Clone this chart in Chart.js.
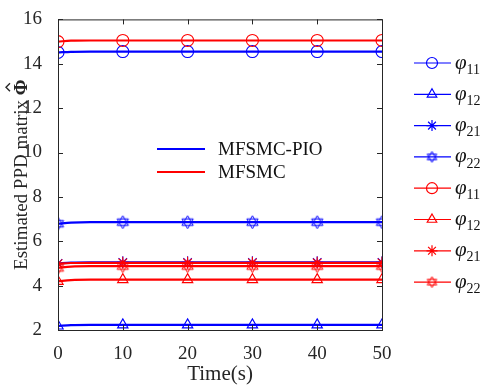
<!DOCTYPE html>
<html>
<head>
<meta charset="utf-8">
<script src="https://cdn.jsdelivr.net/npm/chart.js@4"></script>
<style>
  html, body { margin: 0; padding: 0; background: #fff; }
  canvas { display: block; }
</style>
</head>
<body>
<canvas id="c" width="482" height="389"></canvas>
<script>
// time samples (s) - markers only on multiples of 10
const times = [0, 2, 5, 10, 20, 30, 40, 50];

// MFSMC-PIO (blue)
const pio11 = [14.51, 14.54, 14.55, 14.55, 14.55, 14.55, 14.55, 14.55];
const pio12 = [2.18, 2.22, 2.23, 2.23, 2.23, 2.23, 2.23, 2.23];
const pio21 = [5.00, 5.04, 5.05, 5.05, 5.05, 5.05, 5.05, 5.05];
const pio22 = [6.79, 6.84, 6.86, 6.86, 6.86, 6.86, 6.86, 6.86];

// MFSMC (red)
const smc11 = [15.00, 15.04, 15.05, 15.05, 15.05, 15.05, 15.05, 15.05];
const smc12 = [4.19, 4.25, 4.27, 4.27, 4.27, 4.27, 4.27, 4.27];
const smc21 = [4.99, 5.02, 5.03, 5.03, 5.03, 5.03, 5.03, 5.03];
const smc22 = [4.80, 4.86, 4.88, 4.88, 4.88, 4.88, 4.88, 4.88];

const xTicks = [0, 10, 20, 30, 40, 50];
const yTicks = [2, 4, 6, 8, 10, 12, 14, 16];
const subs = ['11', '12', '21', '22'];

const BLUE = '#0000ff';
const RED = '#ff0000';
const SERIF = '"Liberation Serif", "Times New Roman", serif';

// hexagram marker (star of david)
function hexagram(color, size) {
  const cv = document.createElement('canvas');
  cv.width = size; cv.height = size;
  const g = cv.getContext('2d');
  const c = size / 2, r = size / 2 - 1;
  g.strokeStyle = color; g.lineWidth = 1;
  [-Math.PI / 2, Math.PI / 2].forEach(a0 => {
    g.beginPath();
    for (let k = 0; k < 3; k++) {
      const a = a0 + k * 2 * Math.PI / 3;
      const px = c + r * Math.cos(a), py = c + r * Math.sin(a);
      k ? g.lineTo(px, py) : g.moveTo(px, py);
    }
    g.closePath(); g.stroke();
  });
  return cv;
}

const styles = ['circle', 'triangle', 'star', null];

function makeSet(vals, color, idx, order) {
  return {
    data: times.map((t, i) => ({ x: t, y: vals[i] })),
    borderColor: color,
    backgroundColor: 'rgba(0,0,0,0)',
    pointBorderColor: color,
    pointBackgroundColor: 'rgba(0,0,0,0)',
    borderWidth: 2.2,
    pointBorderWidth: 1.1,
    pointStyle: styles[idx] || hexagram(color, 15),
    pointRadius: ctx => (times[ctx.dataIndex] % 10 === 0 ? 6 : 0),
    pointHoverRadius: 0,
    cubicInterpolationMode: 'monotone',
    order: order
  };
}

const blueSets = [pio11, pio12, pio21, pio22].map((v, i) => makeSet(v, BLUE, i, 1));
const redSets = [smc11, smc12, smc21, smc22].map((v, i) => makeSet(v, RED, i, 0));

const decor = {
  id: 'decor',
  afterDraw(chart) {
    const { ctx, chartArea: a, scales } = chart;
    ctx.save();
    // axes box with inward ticks
    ctx.strokeStyle = '#262626';
    ctx.lineWidth = 1;
    ctx.strokeRect(a.left + 0.5, a.top + 0.5, a.right - a.left, a.bottom - a.top);
    ctx.beginPath();
    xTicks.forEach(t => {
      const x = Math.round(scales.x.getPixelForValue(t)) + 0.5;
      ctx.moveTo(x, a.bottom); ctx.lineTo(x, a.bottom - 5);
      ctx.moveTo(x, a.top); ctx.lineTo(x, a.top + 5);
    });
    yTicks.forEach(t => {
      const y = Math.round(scales.y.getPixelForValue(t)) + 0.5;
      ctx.moveTo(a.left, y); ctx.lineTo(a.left + 5, y);
      ctx.moveTo(a.right, y); ctx.lineTo(a.right - 5, y);
    });
    ctx.stroke();

    // y title with bold hat-Phi
    ctx.translate(21, (a.top + a.bottom) / 2);
    ctx.rotate(-Math.PI / 2);
    ctx.fillStyle = '#262626';
    ctx.textBaseline = 'middle';
    ctx.textAlign = 'left';
    const t1 = 'Estimated PPD matrix ';
    ctx.font = 'bold 19px ' + SERIF;
    const wPhi = ctx.measureText('Φ').width;
    ctx.font = '19px ' + SERIF;
    const w1 = ctx.measureText(t1).width;
    const sx = -(w1 + wPhi) / 2;
    ctx.fillText(t1, sx, 1);
    ctx.font = 'bold 19px ' + SERIF;
    ctx.fillText('Φ', sx + w1, 1);
    const hx = sx + w1 + wPhi / 2;
    ctx.strokeStyle = '#262626';
    ctx.lineWidth = 1.4;
    ctx.beginPath();
    ctx.moveTo(hx - 4, -11); ctx.lineTo(hx, -15); ctx.lineTo(hx + 4, -11);
    ctx.stroke();
    ctx.setTransform(1, 0, 0, 1, 0, 0);

    // inner legend
    ctx.font = '19px ' + SERIF;
    ctx.textAlign = 'left';
    [['MFSMC-PIO', BLUE, 149], ['MFSMC', RED, 172]].forEach(([lab, col, y]) => {
      ctx.strokeStyle = col; ctx.lineWidth = 2;
      ctx.beginPath(); ctx.moveTo(157, y); ctx.lineTo(205, y); ctx.stroke();
      ctx.fillStyle = '#111';
      ctx.fillText(lab, 218, y + 1);
    });

    // right legend
    const all = blueSets.concat(redSets);
    all.forEach((ds, i) => {
      const y = 63 + i * 31.3;
      ctx.strokeStyle = ds.borderColor; ctx.lineWidth = 1.2;
      ctx.beginPath(); ctx.moveTo(414, y); ctx.lineTo(451, y); ctx.stroke();
      ctx.fillStyle = 'rgba(0,0,0,0)';
      const ps = i % 4 === 3 ? hexagram(ds.borderColor, 13) : ds.pointStyle;
      Chart.helpers.drawPoint(ctx, {
        pointStyle: ps, radius: 5.5, borderWidth: 1, rotation: 0
      }, 432, y);
      ctx.fillStyle = '#111';
      ctx.font = 'italic 21px ' + SERIF;
      ctx.fillText('φ', 455, y);
      const wp = ctx.measureText('φ').width;
      ctx.font = '14px ' + SERIF;
      ctx.fillText(subs[i % 4], 455 + wp, y + 7);
    });
    ctx.restore();
  }
};

new Chart(document.getElementById('c'), {
  type: 'line',
  data: { datasets: blueSets.concat(redSets) },
  plugins: [decor],
  options: {
    responsive: false,
    animation: false,
    events: [],
    layout: { padding: { top: 10, right: 100, left: 0, bottom: 0 } },
    plugins: { legend: { display: false }, tooltip: { enabled: false } },
    scales: {
      x: {
        type: 'linear', min: 0, max: 50,
        grid: { display: false }, border: { display: false },
        afterBuildTicks: s => { s.ticks = xTicks.map(v => ({ value: v })); },
        afterFit: s => { s.height = 59; },
        ticks: { color: '#262626', padding: 5, maxRotation: 0, font: { family: SERIF, size: 19 } },
        title: { display: true, text: 'Time(s)', color: '#262626', padding: { top: 0, bottom: 2 }, font: { family: SERIF, size: 21 } }
      },
      y: {
        min: 2, max: 16,
        grid: { display: false }, border: { display: false },
        afterBuildTicks: s => { s.ticks = yTicks.map(v => ({ value: v })); },
        afterFit: s => { s.width = 58; },
        ticks: { color: '#262626', padding: 8, font: { family: SERIF, size: 19 } }
      }
    }
  }
});
</script>
</body>
</html>
